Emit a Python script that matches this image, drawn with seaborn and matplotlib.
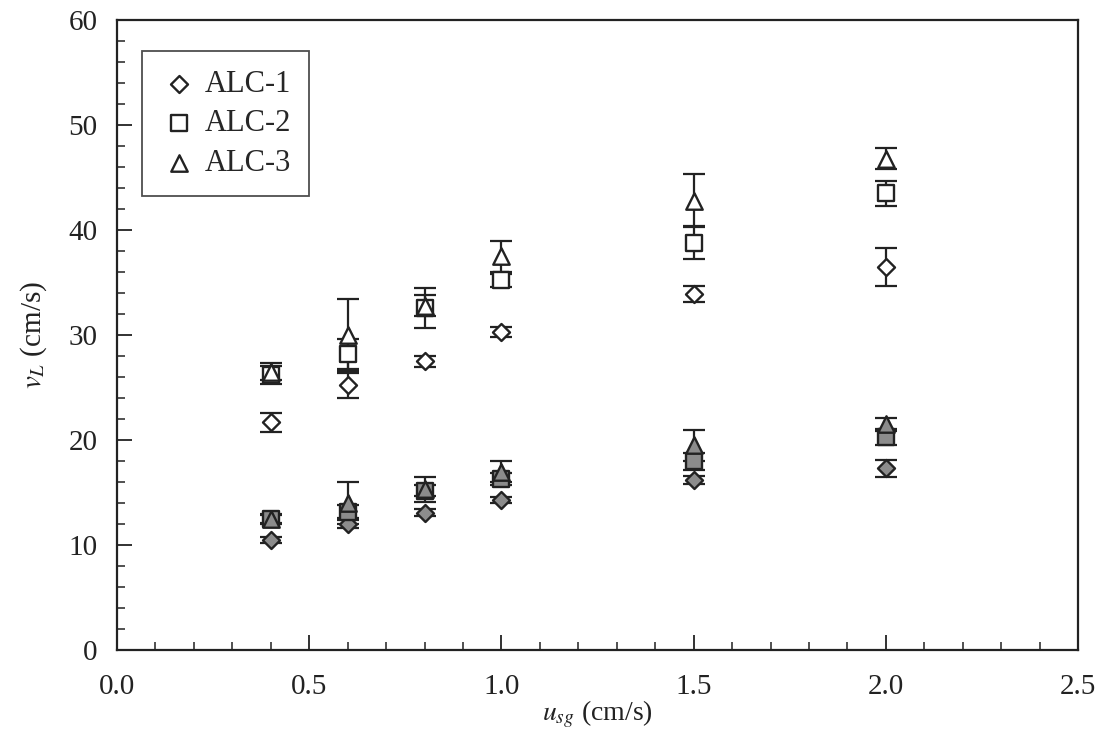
import numpy as np
import pandas as pd
import matplotlib
matplotlib.use("Agg")
import matplotlib.pyplot as plt
from matplotlib.ticker import MultipleLocator
import seaborn as sns

# superficial gas velocity (cm/s)
usg = [0.4, 0.6, 0.8, 1.0, 1.5, 2.0]
series = ["ALC-1", "ALC-2", "ALC-3"]

# riser liquid velocity (open symbols) and error
riser = {
    "ALC-1": [21.7, 25.2, 27.5, 30.3, 33.9, 36.5],
    "ALC-2": [26.2, 28.2, 32.6, 35.2, 38.8, 43.5],
    "ALC-3": [26.5, 30.0, 32.8, 37.5, 42.8, 46.8],
}
riser_err = {
    "ALC-1": [0.9, 1.2, 0.5, 0.5, 0.8, 1.8],
    "ALC-2": [0.9, 1.4, 1.9, 0.6, 1.6, 1.2],
    "ALC-3": [0.8, 3.4, 1.0, 1.5, 2.5, 1.0],
}
# downcomer liquid velocity (filled symbols) and error
down = {
    "ALC-1": [10.5, 12.0, 13.1, 14.3, 16.2, 17.3],
    "ALC-2": [12.5, 13.2, 15.2, 16.3, 18.0, 20.3],
    "ALC-3": [12.5, 14.0, 15.3, 17.0, 19.5, 21.5],
}
down_err = {
    "ALC-1": [0.3, 0.4, 0.3, 0.3, 0.4, 0.8],
    "ALC-2": [0.4, 0.6, 0.5, 0.6, 0.8, 0.8],
    "ALC-3": [0.5, 2.0, 1.2, 1.0, 1.5, 0.6],
}

markers = {"ALC-1": "D", "ALC-2": "s", "ALC-3": "^"}
sizes = {"ALC-1": 75, "ALC-2": 130, "ALC-3": 140}

sns.set_theme(style="ticks")
plt.rcParams["font.family"] = ["Liberation Serif", "DejaVu Serif"]
plt.rcParams["mathtext.fontset"] = "stix"


def to_frame(vals, errs):
    rows = []
    for s in series:
        for x, v, e in zip(usg, vals[s], errs[s]):
            rows.append({"usg": x, "vL": v, "err": e, "series": s})
    return pd.DataFrame(rows)


df_r = to_frame(riser, riser_err)
df_d = to_frame(down, down_err)

fig = plt.figure(figsize=(10.99, 7.38), dpi=100)
ax = fig.add_axes([0.1065, 0.119, 0.8745, 0.854])

for df, face in [(df_r, "white"), (df_d, "#8c8c8c")]:
    for s in series:
        sub = df[df["series"] == s]
        ax.errorbar(sub["usg"], sub["vL"], yerr=sub["err"], fmt="none",
                    ecolor="#222222", elinewidth=1.6, capsize=8, capthick=1.6,
                    zorder=2)
    for s in series:
        sub = df[df["series"] == s]
        sns.scatterplot(data=sub, x="usg", y="vL", marker=markers[s],
                        s=sizes[s], facecolor=face, edgecolor="#222222",
                        linewidth=1.7, ax=ax, zorder=3,
                        label=s if face == "white" else None)

ax.set_xlim(0, 2.5)
ax.set_ylim(0, 60)
ax.xaxis.set_major_locator(MultipleLocator(0.5))
ax.xaxis.set_minor_locator(MultipleLocator(0.1))
ax.yaxis.set_major_locator(MultipleLocator(10))
ax.yaxis.set_minor_locator(MultipleLocator(2))
ax.xaxis.set_major_formatter(matplotlib.ticker.FormatStrFormatter("%.1f"))
ax.tick_params(which="both", direction="in", top=False, right=False,
               labelsize=21, color="#222222", labelcolor="#222222")
ax.tick_params(which="major", length=11, width=1.3)
ax.tick_params(which="minor", length=6, width=1.1)
ax.tick_params(axis="x", which="major", pad=17)
ax.tick_params(axis="y", which="major", pad=14)
for sp in ax.spines.values():
    sp.set_linewidth(1.6)
    sp.set_color("#222222")

ax.set_xlabel(r"$u_{sg}$ (cm/s)", fontsize=20, labelpad=-1, color="#222222")
ax.set_ylabel(r"$v_L$ (cm/s)", fontsize=21, labelpad=14, color="#222222")

leg = ax.legend(loc="upper left", bbox_to_anchor=(0.026, 0.95), fontsize=22,
                frameon=True, fancybox=False, edgecolor="#222222",
                handletextpad=0.25, borderpad=0.6, labelspacing=0.35,
                handlelength=1.2, borderaxespad=0)
leg.get_frame().set_linewidth(1.3)

fig.savefig("out.png", dpi=100)
